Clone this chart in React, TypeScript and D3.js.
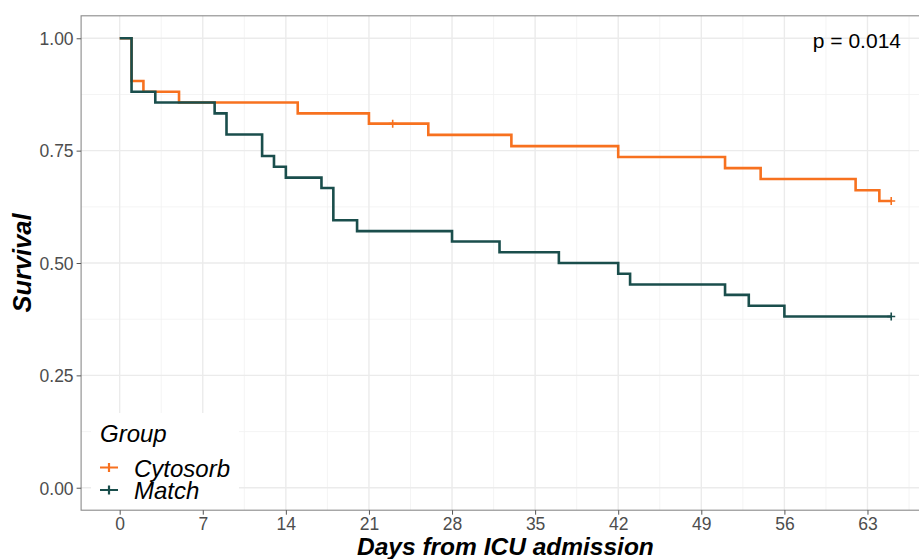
import React, { useEffect, useRef } from 'react'
import * as d3 from 'd3'

// Kaplan-Meier step data
const cytoTimes = [0, 1, 2, 5, 15, 21, 26, 33, 42, 51, 54, 62, 64]
const cytoSurv = [1, 0.905, 0.881, 0.857, 0.833, 0.81, 0.785, 0.76, 0.736, 0.711, 0.687, 0.662, 0.638]
const cytoCensor = [23, 65]

const matchTimes = [0, 1, 3, 8, 9, 12, 13, 14, 17, 18, 20, 28, 32, 37, 42, 43, 51, 53, 56]
const matchSurv = [1, 0.881, 0.857, 0.833, 0.786, 0.738, 0.714, 0.69, 0.667, 0.595, 0.571, 0.548, 0.524, 0.5, 0.476, 0.452, 0.429, 0.405, 0.381]
const matchCensor = [65]

const endTime = 65
const groups = ['Cytosorb', 'Match']
const colors = ['#F7711F', '#1A4E4C']
const xTicks = [0, 7, 14, 21, 28, 35, 42, 49, 56, 63]
const yTicks = [0, 0.25, 0.5, 0.75, 1]
const pLabel = 'p = 0.014'

const FONT = '"Liberation Sans", Arial, Helvetica, sans-serif'

const App = () => {
  const ref = useRef<SVGSVGElement>(null)

  useEffect(() => {
    const svg = d3.select(ref.current)
    svg.selectAll('*').remove()

    const margin = { top: 15.8, left: 81.1 }
    const panelRight = 929.8
    const panelBottom = 510.2

    const x = d3.scaleLinear().domain([-3.25, 68.25]).range([margin.left, panelRight])
    const y = d3.scaleLinear().domain([-0.05, 1.05]).range([panelBottom, margin.top])

    const g = svg.append('g')

    // panel background
    g.append('rect')
      .attr('x', margin.left).attr('y', margin.top)
      .attr('width', panelRight - margin.left).attr('height', panelBottom - margin.top)
      .attr('fill', '#fff')

    // grid lines
    const minorX = d3.range(3.5, 68, 7)
    const minorY = [0.125, 0.375, 0.625, 0.875]
    g.selectAll('.gx-minor').data(minorX).join('line')
      .attr('x1', (d) => x(d)).attr('x2', (d) => x(d))
      .attr('y1', margin.top).attr('y2', panelBottom)
      .attr('stroke', '#f1f1f1').attr('stroke-width', 0.8)
    g.selectAll('.gy-minor').data(minorY).join('line')
      .attr('y1', (d) => y(d)).attr('y2', (d) => y(d))
      .attr('x1', margin.left).attr('x2', panelRight)
      .attr('stroke', '#f1f1f1').attr('stroke-width', 0.8)
    g.selectAll('.gx-major').data(xTicks.concat([70])).join('line')
      .attr('x1', (d) => x(d)).attr('x2', (d) => x(d))
      .attr('y1', margin.top).attr('y2', panelBottom)
      .attr('stroke', '#ebebeb').attr('stroke-width', 1.4)
    g.selectAll('.gy-major').data(yTicks).join('line')
      .attr('y1', (d) => y(d)).attr('y2', (d) => y(d))
      .attr('x1', margin.left).attr('x2', panelRight)
      .attr('stroke', '#ebebeb').attr('stroke-width', 1.4)

    // survival curves
    const series = [
      { times: cytoTimes, surv: cytoSurv, censor: cytoCensor },
      { times: matchTimes, surv: matchSurv, censor: matchCensor },
    ]
    const line = d3.line<[number, number]>()
      .x((d) => x(d[0]))
      .y((d) => y(d[1]))
      .curve(d3.curveStepAfter)

    series.forEach((s, i) => {
      const pts: [number, number][] = s.times.map((t, j) => [t, s.surv[j]])
      pts.push([endTime, s.surv[s.surv.length - 1]])
      g.append('path')
        .attr('d', line(pts))
        .attr('fill', 'none')
        .attr('stroke', colors[i])
        .attr('stroke-width', 2.6)

      const survAt = (t: number) => {
        let v = 1
        s.times.forEach((tt, j) => { if (tt <= t) v = s.surv[j] })
        return v
      }
      s.censor.forEach((t) => {
        const cx = x(t)
        const cy = y(survAt(t))
        g.append('path')
          .attr('d', `M${cx - 4},${cy}H${cx + 4}M${cx},${cy - 4}V${cy + 4}`)
          .attr('stroke', colors[i])
          .attr('stroke-width', 1.6)
          .attr('fill', 'none')
      })
    })

    // legend (inside panel, white background)
    const lg = svg.append('g')
    lg.append('rect')
      .attr('x', 91).attr('y', 413).attr('width', 148).attr('height', panelBottom - 413)
      .attr('fill', '#fff')
    lg.append('text')
      .attr('x', 100).attr('y', 442)
      .attr('font-family', FONT).attr('font-size', 24).attr('font-style', 'italic')
      .attr('fill', '#000')
      .text('Group')
    groups.forEach((name, i) => {
      const cy = 467.5 + i * 22.5
      lg.append('path')
        .attr('d', `M100,${cy}H118M109,${cy - 4.5}V${cy + 4.5}`)
        .attr('stroke', colors[i]).attr('stroke-width', 2.2).attr('fill', 'none')
      lg.append('text')
        .attr('x', 134).attr('y', cy + 9)
        .attr('font-family', FONT).attr('font-size', 24).attr('font-style', 'italic')
        .attr('fill', '#000')
        .text(name)
    })

    // panel border
    svg.append('rect')
      .attr('x', margin.left).attr('y', margin.top)
      .attr('width', panelRight - margin.left).attr('height', panelBottom - margin.top)
      .attr('fill', 'none').attr('stroke', '#8a8a8a').attr('stroke-width', 1.1)

    // axes
    const yAxis = d3.axisLeft(y).tickValues(yTicks).tickFormat(d3.format('.2f')).tickSize(4.5).tickPadding(3)
    const xAxis = d3.axisBottom(x).tickValues(xTicks).tickFormat(d3.format('d')).tickSize(4.5).tickPadding(3)

    const ya = svg.append('g').attr('transform', `translate(${margin.left},0)`).call(yAxis)
    ya.select('.domain').remove()
    ya.selectAll('.tick line').attr('stroke', '#555')
    ya.selectAll('.tick text')
      .attr('font-family', FONT).attr('font-size', 17.5).attr('fill', '#4d4d4d')
      .attr('dy', '0.36em')

    const xa = svg.append('g').attr('transform', `translate(0,${panelBottom})`).call(xAxis)
    xa.select('.domain').remove()
    xa.selectAll('.tick line').attr('stroke', '#555')
    xa.selectAll('.tick text')
      .attr('font-family', FONT).attr('font-size', 17.5).attr('fill', '#4d4d4d')
      .attr('dy', '0.72em')

    // axis titles
    svg.append('text')
      .attr('x', (margin.left + panelRight) / 2).attr('y', 555)
      .attr('text-anchor', 'middle')
      .attr('font-family', FONT).attr('font-size', 24.5)
      .attr('font-weight', 'bold').attr('font-style', 'italic')
      .attr('fill', '#000')
      .text('Days from ICU admission')

    svg.append('text')
      .attr('transform', `translate(31,${(margin.top + panelBottom) / 2}) rotate(-90)`)
      .attr('text-anchor', 'middle')
      .attr('font-family', FONT).attr('font-size', 25.5)
      .attr('font-weight', 'bold').attr('font-style', 'italic')
      .attr('fill', '#000')
      .text('Survival')

    // p-value annotation
    svg.append('text')
      .attr('x', 901).attr('y', 48)
      .attr('text-anchor', 'end')
      .attr('font-family', FONT).attr('font-size', 21)
      .attr('fill', '#000')
      .text(pLabel)
  }, [])

  return (
    <svg
      ref={ref}
      width={919}
      height={559}
      style={{ position: 'absolute', left: 0, top: 0, background: '#fff' }}
    />
  )
}

export default App
